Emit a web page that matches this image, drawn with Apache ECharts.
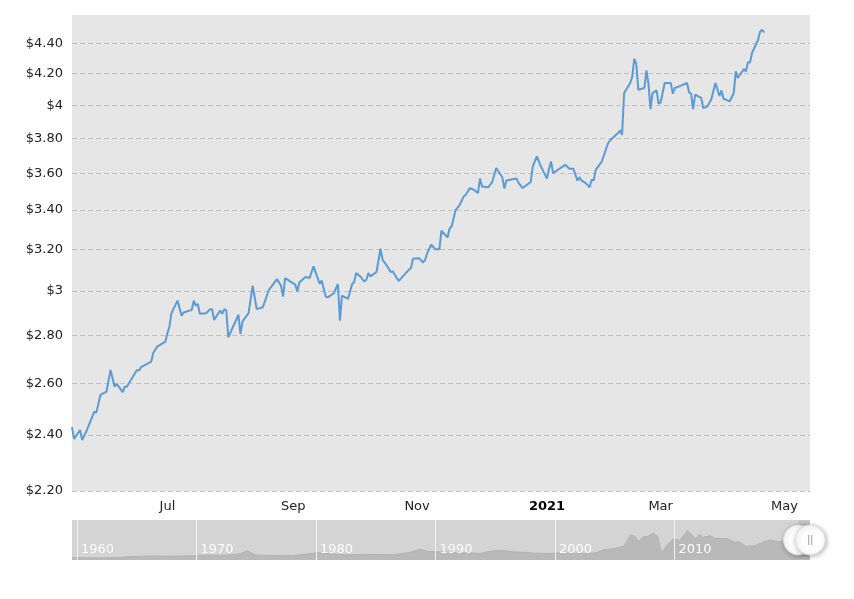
<!DOCTYPE html>
<html><head><meta charset="utf-8">
<script src="https://cdn.jsdelivr.net/npm/echarts@6/dist/echarts.min.js"></script>
<style>html,body{margin:0;padding:0;background:#fff}#c{width:854px;height:599px}</style>
</head><body><div id="c"></div>
<script>
const dates = ['2020-05-15','2020-05-16','2020-05-19','2020-05-20','2020-05-22','2020-05-26','2020-05-27','2020-05-29','2020-06-01','2020-06-03',
'2020-06-05','2020-06-06','2020-06-09','2020-06-10','2020-06-11','2020-06-13','2020-06-16','2020-06-17','2020-06-18','2020-06-21',
'2020-06-23','2020-06-24','2020-06-26','2020-06-30','2020-07-01','2020-07-02','2020-07-03','2020-07-06','2020-07-08','2020-07-09',
'2020-07-13','2020-07-14','2020-07-15','2020-07-16','2020-07-17','2020-07-20','2020-07-22','2020-07-23','2020-07-24','2020-07-27',
'2020-07-28','2020-07-29','2020-07-30','2020-07-31','2020-08-05','2020-08-06','2020-08-07','2020-08-10','2020-08-12','2020-08-14',
'2020-08-17','2020-08-18','2020-08-20','2020-08-24','2020-08-26','2020-08-27','2020-08-28','2020-09-02','2020-09-03','2020-09-04',
'2020-09-07','2020-09-09','2020-09-11','2020-09-14','2020-09-15','2020-09-17','2020-09-18','2020-09-21','2020-09-23','2020-09-24',
'2020-09-25','2020-09-28','2020-09-30','2020-10-01','2020-10-02','2020-10-04','2020-10-06','2020-10-07','2020-10-08','2020-10-09',
'2020-10-12','2020-10-14','2020-10-15','2020-10-17','2020-10-19','2020-10-20','2020-10-22','2020-10-23','2020-10-26','2020-10-28',
'2020-10-29','2020-10-30','2020-11-02','2020-11-04','2020-11-05','2020-11-06','2020-11-08','2020-11-10','2020-11-12','2020-11-13',
'2020-11-16','2020-11-17','2020-11-18','2020-11-20','2020-11-21','2020-11-22','2020-11-24','2020-11-25','2020-11-27','2020-11-29',
'2020-12-01','2020-12-02','2020-12-03','2020-12-06','2020-12-08','2020-12-10','2020-12-13','2020-12-14','2020-12-15','2020-12-20',
'2020-12-21','2020-12-23','2020-12-27','2020-12-28','2020-12-30','2021-01-01','2021-01-04','2021-01-05','2021-01-06','2021-01-07',
'2021-01-13','2021-01-15','2021-01-17','2021-01-19','2021-01-20','2021-01-21','2021-01-23','2021-01-25','2021-01-26','2021-01-27',
'2021-01-28','2021-01-29','2021-01-31','2021-02-03','2021-02-04','2021-02-08','2021-02-09','2021-02-10','2021-02-11','2021-02-14',
'2021-02-15','2021-02-16','2021-02-17','2021-02-18','2021-02-21','2021-02-22','2021-02-23','2021-02-24','2021-02-25','2021-02-27',
'2021-02-28','2021-03-01','2021-03-03','2021-03-06','2021-03-07','2021-03-08','2021-03-11','2021-03-14','2021-03-15','2021-03-16',
'2021-03-17','2021-03-18','2021-03-21','2021-03-22','2021-03-24','2021-03-26','2021-03-28','2021-03-30','2021-03-31','2021-04-01',
'2021-04-03','2021-04-04','2021-04-06','2021-04-07','2021-04-08','2021-04-11','2021-04-12','2021-04-13','2021-04-14','2021-04-15',
'2021-04-18','2021-04-19','2021-04-20','2021-04-21'];
const prices = [2.429,2.385,2.418,2.381,2.412,2.488,2.484,2.553,2.566,2.654,
2.586,2.597,2.564,2.586,2.586,2.613,2.654,2.651,2.666,2.679,
2.688,2.724,2.752,2.773,2.809,2.839,2.898,2.955,2.886,2.901,
2.913,2.955,2.931,2.940,2.895,2.898,2.916,2.916,2.868,2.910,
2.895,2.916,2.910,2.792,2.891,2.806,2.861,2.898,3.024,2.916,
2.925,2.950,3.005,3.055,3.024,2.974,3.060,3.029,2.997,3.039,
3.065,3.060,3.116,3.033,3.049,2.974,2.970,2.989,3.032,2.864,
2.978,2.963,3.032,3.041,3.084,3.068,3.044,3.052,3.084,3.068,
3.089,3.202,3.148,3.121,3.089,3.092,3.060,3.047,3.079,3.100,
3.108,3.153,3.156,3.135,3.148,3.181,3.222,3.200,3.200,3.293,
3.259,3.303,3.315,3.401,3.413,3.428,3.473,3.482,3.518,3.509,
3.491,3.570,3.527,3.522,3.551,3.629,3.577,3.515,3.559,3.570,
3.546,3.518,3.551,3.638,3.695,3.638,3.570,3.625,3.666,3.601,
3.647,3.625,3.625,3.559,3.577,3.559,3.546,3.522,3.564,3.559,
3.619,3.634,3.666,3.768,3.787,3.831,3.847,3.821,4.076,4.140,
4.179,4.297,4.266,4.097,4.108,4.221,4.135,3.976,4.076,4.093,
4.009,4.017,4.140,4.140,4.072,4.108,4.123,4.140,4.080,4.072,
3.976,4.066,4.045,3.983,3.991,4.038,4.140,4.057,4.093,4.040,
4.030,4.023,4.076,4.215,4.172,4.231,4.215,4.274,4.274,4.337,
4.427,4.484,4.496,4.477];

const yTickValues = [2.2,2.4,2.6,2.8,3,3.2,3.4,3.6,3.8,4,4.2,4.4];
const yTickLabels = ['$2.20','$2.40','$2.60','$2.80','$3','$3.20','$3.40','$3.60','$3.80','$4','$4.20','$4.40'];
const yRange = [2.2, 4.6];
const xTickDates = ['2020-07-01','2020-09-01','2020-11-01','2021-01-04','2021-03-01','2021-05-01'];
const xTickLabels = ['Jul','Sep','Nov','2021','Mar','May'];
const viewRange = ['2020-05-15 00:00','2021-05-13 14:00'];

const navDates = ['1959-08-01','1961-06-01','1963-06-01','1964-06-01','1966-01-01','1968-01-01','1969-09-01','1970-06-01','1972-01-01','1973-06-01',
'1974-04-01','1975-01-01','1976-06-01','1978-01-01','1979-06-01','1980-02-01','1981-01-01','1982-06-01','1984-01-01','1986-06-01',
'1987-12-01','1988-10-01','1989-06-01','1990-06-01','1992-01-01','1993-09-01','1995-01-01','1995-08-01','1996-06-01','1997-06-01',
'1998-06-01','1999-06-01','2000-06-01','2001-06-01','2002-06-01','2003-06-01','2004-03-01','2005-01-01','2005-10-01','2006-05-01',
'2006-10-01','2007-01-01','2007-06-01','2007-10-01','2008-04-01','2008-08-01','2008-12-01','2009-06-01','2009-12-01','2010-06-01',
'2010-12-01','2011-02-01','2011-10-01','2012-02-01','2012-06-01','2013-01-01','2013-06-01','2014-06-01','2015-01-01','2015-06-01',
'2016-01-01','2016-10-01','2017-06-01','2018-01-01','2018-09-01','2019-06-01','2020-03-01','2020-09-01','2021-02-01','2021-04-20'];
const navValues = [0.34,0.34,0.36,0.5,0.62,0.58,0.66,0.75,0.72,0.85,
1.39,0.75,0.68,0.65,0.95,1.15,0.95,0.8,0.85,0.8,
1.2,1.65,1.3,1.24,1.15,1.0,1.45,1.5,1.25,1.2,
1.05,1.0,1.1,1.0,1.0,1.1,1.6,1.75,2.15,3.9,
3.5,2.8,3.6,3.6,4.15,3.6,1.15,2.4,3.3,3.0,
4.1,4.54,3.3,3.9,3.5,3.75,3.3,3.3,2.75,2.8,
2.1,2.2,2.75,3.1,2.8,2.75,2.4,3.05,3.7,4.45];
const navTickDates = ['1960-01-01','1970-01-01','1980-01-01','1990-01-01','2000-01-01','2010-01-01'];
const navTickLabels = ['1960','1970','1980','1990','2000','2010'];
const navRange = ['1959-07-31','2021-05-05'];
const navYRange = [0, 6.15];

const T = s => echarts.time.parse(s).getTime();
const xTickTimes = xTickDates.map(T);
const navTickTimes = navTickDates.map(T);

const chart = echarts.init(document.getElementById('c'), null, {renderer: 'canvas'});
const FONT = 'DejaVu Sans';
const NAV = {left: 72, top: 520, width: 738, height: 40};

chart.setOption({
  animation: false,
  textStyle: {fontFamily: FONT},
  grid: [
    {left: 72, top: 15, width: 738, height: 476, show: true, backgroundColor: '#e6e6e6', borderWidth: 0},
    {left: NAV.left, top: NAV.top, width: NAV.width, height: NAV.height, show: true, backgroundColor: '#d4d4d4', borderWidth: 0}
  ],
  xAxis: [
    {type: 'value', gridIndex: 0, min: T(viewRange[0]), max: T(viewRange[1]),
     axisLine: {show: false}, axisTick: {show: false, customValues: xTickTimes}, splitLine: {show: false},
     axisLabel: {customValues: xTickTimes, color: '#222', fontSize: 13, margin: 9, fontFamily: FONT,
       formatter: v => { const i = xTickTimes.indexOf(v); const t = i >= 0 ? xTickLabels[i] : ''; return /^\d{4}$/.test(t) ? '{b|' + t + '}' : t; },
       rich: {b: {fontWeight: 'bold', fontSize: 13, color: '#000', fontFamily: FONT}}}},
    {type: 'value', gridIndex: 1, z: 10, min: T(navRange[0]), max: T(navRange[1]),
     axisLine: {show: false}, axisTick: {show: false, customValues: navTickTimes},
     splitLine: {show: true, lineStyle: {color: '#f2f2f2', width: 1}},
     axisLabel: {customValues: navTickTimes, inside: true, align: 'left', margin: 4, padding: [0, 0, 0, 4],
       color: 'rgba(255,255,255,0.95)', fontSize: 13, fontFamily: FONT,
       formatter: v => { const i = navTickTimes.indexOf(v); return i >= 0 ? navTickLabels[i] : ''; }}}
  ],
  yAxis: [
    {type: 'log', logBase: 10, gridIndex: 0, min: yRange[0], max: yRange[1],
     axisLine: {show: false}, axisTick: {show: false}, axisLabel: {show: false}, splitLine: {show: false}},
    {type: 'value', gridIndex: 1, min: navYRange[0], max: navYRange[1], show: false, splitLine: {show: false}}
  ],
  series: [
    {type: 'line', name: 'Price', xAxisIndex: 0, yAxisIndex: 0, z: 3,
     data: dates.map((d, i) => [T(d), prices[i]]),
     showSymbol: false, symbol: 'none',
     lineStyle: {color: '#5b9bd5', width: 2}, itemStyle: {color: '#5b9bd5'},
     markLine: {silent: true, z: 1, symbol: ['none', 'none'], animation: false,
       lineStyle: {color: '#c2c2c2', type: [5, 3], width: 1},
       label: {position: 'start', distance: 9, color: '#222', fontSize: 13, fontFamily: FONT},
       emphasis: {disabled: true},
       data: yTickValues.map((v, i) => ({yAxis: v, label: {formatter: yTickLabels[i]}}))}},
    {type: 'line', name: 'History', xAxisIndex: 1, yAxisIndex: 1, z: 2,
     data: navDates.map((d, i) => [T(d), navValues[i]]),
     showSymbol: false, symbol: 'none',
     lineStyle: {color: '#b3b3b3', width: 1}, areaStyle: {color: '#b9b9b9', opacity: 1},
     markArea: {silent: true, itemStyle: {color: 'rgba(0,0,0,0.06)'},
       data: [[{xAxis: T(viewRange[0])}, {xAxis: T(viewRange[1])}]]}}
  ]
});

const hx0 = chart.convertToPixel({xAxisIndex: 1}, T(viewRange[0]));
const hx1 = chart.convertToPixel({xAxisIndex: 1}, T(viewRange[1]));
const hy = NAV.top + NAV.height / 2;
const handleStyle = {fill: '#ffffff', stroke: '#dddddd', lineWidth: 1, shadowBlur: 5, shadowColor: 'rgba(0,0,0,0.3)', shadowOffsetX: 1, shadowOffsetY: 1};
chart.setOption({
  graphic: [
    {type: 'circle', z: 100, shape: {cx: hx0, cy: hy, r: 15}, style: handleStyle},
    {type: 'circle', z: 101, shape: {cx: hx1, cy: hy, r: 15}, style: handleStyle},
    {type: 'line', z: 102, shape: {x1: hx1 - 1.5, y1: hy - 5, x2: hx1 - 1.5, y2: hy + 5}, style: {stroke: '#9a9a9a', lineWidth: 1}},
    {type: 'line', z: 102, shape: {x1: hx1 + 1.5, y1: hy - 5, x2: hx1 + 1.5, y2: hy + 5}, style: {stroke: '#9a9a9a', lineWidth: 1}}
  ]
});
</script></body></html>
